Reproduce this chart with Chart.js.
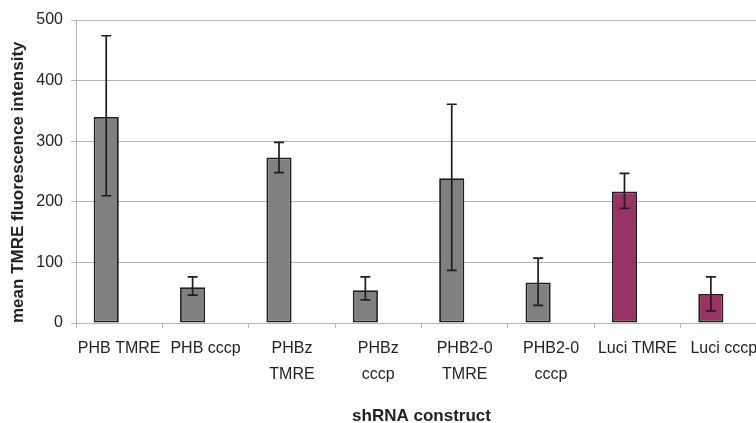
<!DOCTYPE html>
<html>
<head>
<meta charset="utf-8">
<script src="https://cdn.jsdelivr.net/npm/chart.js@4"></script>
<style>
  html, body { margin: 0; padding: 0; background: #ffffff; overflow: hidden; }
  #wrap { width: 768px; height: 423px; }
</style>
</head>
<body>
<div id="wrap"><canvas id="c" width="768" height="423"></canvas></div>
<script>
// ---- data ----
const categories = [
  ["PHB TMRE"], ["PHB cccp"], ["PHBz", "TMRE"], ["PHBz", "cccp"],
  ["PHB2-0", "TMRE"], ["PHB2-0", "cccp"], ["Luci TMRE"], ["Luci cccp"]
];
const meanValues = [340, 59, 273, 54, 239, 67, 217, 48];
const errorHigh  = [474, 76, 298, 76, 361, 107, 247, 76];
const errorLow   = [210, 46, 248, 38, 87, 29, 189, 20];
const yTicks     = [0, 100, 200, 300, 400, 500];

// ---- styles ----
const GRAY = '#808080';
const PLUM = '#993366';
const barColors = categories.map(c => c[0].startsWith('Luci') ? PLUM : GRAY);
const FONT = "'Liberation Sans', Arial, sans-serif";

const errorBarPlugin = {
  id: 'errorBars',
  afterDatasetsDraw(chart) {
    const meta = chart.getDatasetMeta(0);
    const y = chart.scales.y;
    const ctx = chart.ctx;
    ctx.save();
    ctx.strokeStyle = '#1e1e1e';
    ctx.lineWidth = 1.7;
    const cap = 5;
    meta.data.forEach((bar, i) => {
      const x = bar.x;
      const yh = y.getPixelForValue(errorHigh[i]);
      const yl = y.getPixelForValue(errorLow[i]);
      ctx.beginPath();
      ctx.moveTo(x, yh); ctx.lineTo(x, yl);
      ctx.moveTo(x - cap, yh); ctx.lineTo(x + cap, yh);
      ctx.moveTo(x - cap, yl); ctx.lineTo(x + cap, yl);
      ctx.stroke();
    });
    ctx.restore();
  }
};

new Chart(document.getElementById('c'), {
  type: 'bar',
  data: {
    labels: categories,
    datasets: [
      {
        label: 'mean TMRE',
        data: meanValues,
        backgroundColor: barColors,
        borderColor: '#1e1e1e',
        borderWidth: 1.8,
        borderSkipped: false,
        categoryPercentage: 0.6,
        barPercentage: 0.97
      },
      {
        label: '',
        data: categories.map(() => null),
        categoryPercentage: 0.6,
        barPercentage: 0.97
      }
    ]
  },
  options: {
    responsive: false,
    animation: false,
    devicePixelRatio: 1,
    layout: { padding: { top: 20, right: 1, bottom: 0, left: 0 } },
    plugins: {
      legend: { display: false },
      tooltip: { enabled: false }
    },
    scales: {
      x: {
        grid: {
          display: true,
          drawOnChartArea: false,
          drawTicks: true,
          tickLength: 5,
          color: '#b4b4b4',
          lineWidth: 1
        },
        border: { display: true, color: '#b4b4b4', width: 1 },
        ticks: {
          color: '#222222',
          padding: 8,
          maxRotation: 0,
          autoSkip: false,
          font: { family: FONT, size: 16, lineHeight: 1.6 }
        },
        title: {
          display: true,
          text: 'shRNA construct',
          color: '#222222',
          padding: { top: 0, bottom: 0 },
          font: { family: FONT, size: 17, weight: 'bold', lineHeight: 0.74 }
        },
        afterFit(s) { s.height = 100; }
      },
      y: {
        min: 0,
        max: 500,
        afterBuildTicks(s) { s.ticks = yTicks.map(v => ({ value: v })); },
        grid: {
          color: '#b4b4b4',
          lineWidth: 1,
          tickLength: 5,
          drawTicks: true
        },
        border: { display: true, color: '#b4b4b4', width: 1 },
        ticks: {
          color: '#222222',
          padding: 8,
          font: { family: FONT, size: 16 }
        },
        title: {
          display: true,
          align: 'start',
          text: 'mean TMRE fluorescence intensity',
          color: '#222222',
          padding: { top: 8, bottom: 0 },
          font: { family: FONT, size: 17, weight: 'bold', lineHeight: 1.2 }
        },
        afterFit(s) { s.width = 76; }
      }
    }
  },
  plugins: [errorBarPlugin]
});
</script>
</body>
</html>
